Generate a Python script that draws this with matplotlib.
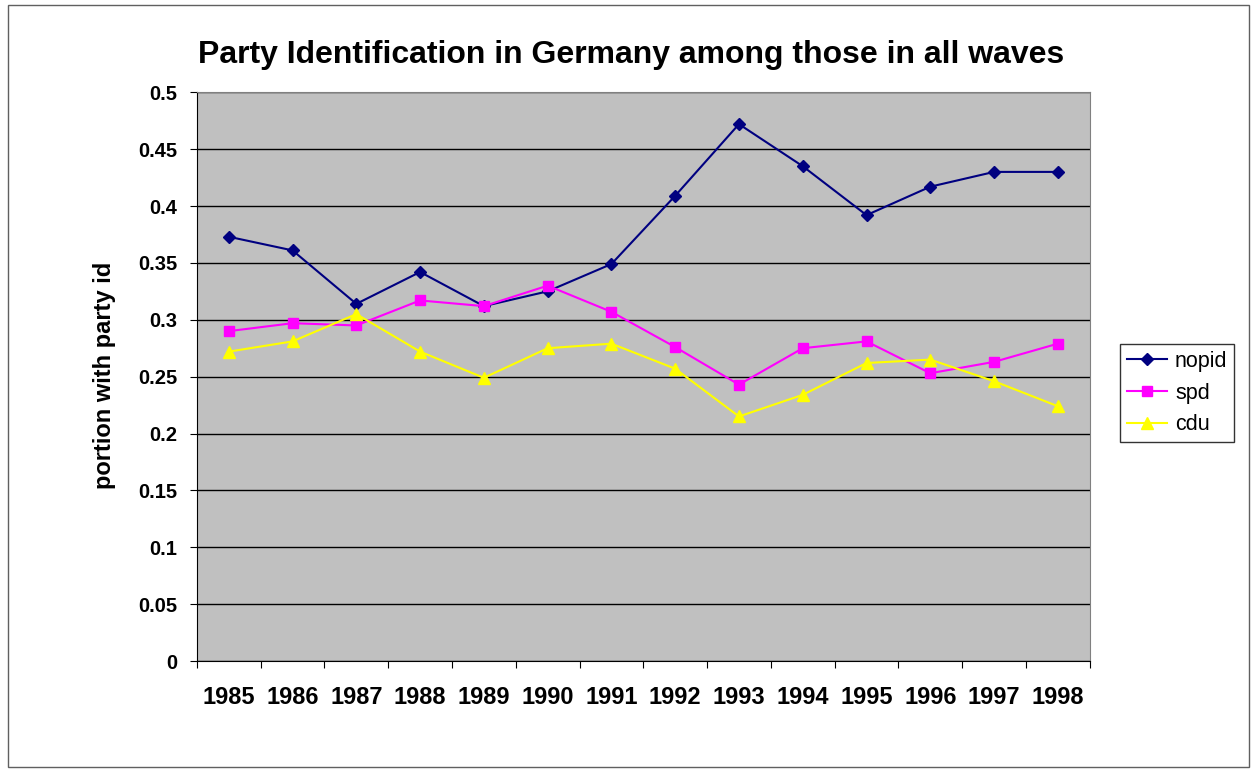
import matplotlib.pyplot as plt
import numpy as np

plt.rcParams['font.family'] = ['Liberation Sans', 'DejaVu Sans']

# dados
anos = ['1985', '1986', '1987', '1988', '1989', '1990', '1991',
        '1992', '1993', '1994', '1995', '1996', '1997', '1998']
nopid = [0.373, 0.361, 0.314, 0.342, 0.312, 0.325, 0.349,
         0.409, 0.472, 0.435, 0.392, 0.417, 0.430, 0.430]
spd = [0.290, 0.297, 0.295, 0.317, 0.312, 0.330, 0.307,
       0.276, 0.243, 0.275, 0.281, 0.253, 0.263, 0.279]
cdu = [0.272, 0.281, 0.305, 0.272, 0.249, 0.275, 0.279,
       0.257, 0.215, 0.234, 0.262, 0.265, 0.246, 0.224]

fig = plt.figure(figsize=(12.54, 7.69), dpi=100)
ax = fig.add_axes([0.157, 0.1404, 0.712, 0.7396])
x = np.arange(len(anos))

ax.set_facecolor('#c0c0c0')
ax.plot(x, nopid, color='#000080', marker='D', markersize=6.5, linewidth=1.5, label='nopid')
ax.plot(x, spd, color='#ff00ff', marker='s', markersize=7.5, linewidth=1.5, label='spd')
ax.plot(x, cdu, color='#ffff00', marker='^', markersize=9, linewidth=1.5, label='cdu')

ax.set_xlim(-0.5, len(anos) - 0.5)
ax.set_ylim(0, 0.5)
ax.set_yticks(np.arange(0, 0.51, 0.05))
ax.set_yticklabels(['0', '0.05', '0.1', '0.15', '0.2', '0.25', '0.3', '0.35', '0.4', '0.45', '0.5'])
ax.yaxis.grid(True, color='black', linewidth=1)
ax.set_axisbelow(True)

# ticks entre categorias
ax.set_xticks(np.arange(-0.5, len(anos), 1))
ax.set_xticklabels([])
ax.set_xticks(x, minor=True)
ax.set_xticklabels(anos, minor=True)
ax.tick_params(axis='x', which='minor', length=0, pad=18)
ax.tick_params(axis='x', which='major', length=5, direction='out', color='black')
ax.tick_params(axis='y', length=5, direction='out', pad=9)
for lbl in ax.get_xticklabels(minor=True):
    lbl.set_fontweight('bold')
    lbl.set_fontsize(17)
for lbl in ax.get_yticklabels():
    lbl.set_fontweight('bold')
    lbl.set_fontsize(14.5)

for s in ['top', 'right']:
    ax.spines[s].set_color('#808080')
ax.spines['left'].set_color('black')
ax.spines['bottom'].set_color('black')

ax.set_ylabel('portion with party id', fontsize=17, fontweight='bold')
ax.yaxis.set_label_coords(-0.091, 0.503)
fig.text(0.503, 0.928, 'Party Identification in Germany among those in all waves',
         ha='center', va='center', fontsize=23, fontweight='bold')

leg = ax.legend(loc='center left', bbox_to_anchor=(1.034, 0.471), fontsize=15.5,
                frameon=True, fancybox=False, edgecolor='black', borderpad=0.3,
                handlelength=1.9, handletextpad=0.35, labelspacing=0.5, borderaxespad=0)
leg.get_frame().set_linewidth(1)

# borda da figura
fig.patches.append(plt.Rectangle((0.006, 0.003), 0.99, 0.99, transform=fig.transFigure,
                                 fill=False, edgecolor='#606060', linewidth=1))

fig.savefig('out.png', dpi=100)
